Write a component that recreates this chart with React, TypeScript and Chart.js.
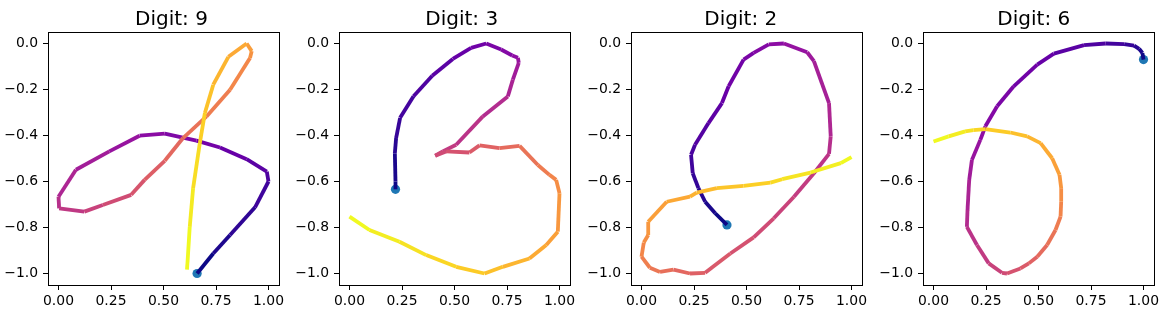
import React, { useEffect, useRef } from "react";
import { Chart, registerables } from "chart.js";

Chart.register(...registerables);

// ---------- data ----------
const digitLabels = ["9", "3", "2", "6"];

const digit9X = [0.66, 0.737, 0.817, 0.936, 1.0, 0.992, 0.896, 0.769, 0.657, 0.506, 0.386, 0.242, 0.083, 0.0, 0.003, 0.123, 0.211, 0.346, 0.41, 0.506, 0.593, 0.705, 0.817, 0.912, 0.92, 0.896, 0.809, 0.737, 0.697, 0.673, 0.641, 0.625, 0.612];
const digit9Y = [-1.0, -0.913, -0.833, -0.712, -0.6, -0.557, -0.503, -0.452, -0.422, -0.392, -0.401, -0.469, -0.549, -0.666, -0.717, -0.731, -0.702, -0.658, -0.593, -0.51, -0.411, -0.317, -0.201, -0.063, -0.033, 0.0, -0.058, -0.179, -0.302, -0.433, -0.629, -0.797, -0.983];

const digit3X = [0.219, 0.219, 0.216, 0.222, 0.241, 0.305, 0.394, 0.492, 0.579, 0.651, 0.722, 0.775, 0.802, 0.806, 0.778, 0.754, 0.635, 0.508, 0.444, 0.408, 0.46, 0.571, 0.619, 0.714, 0.81, 0.897, 0.952, 0.984, 1.0, 0.992, 0.937, 0.857, 0.73, 0.643, 0.508, 0.365, 0.238, 0.095, 0.0];
const digit3Y = [-0.634, -0.6, -0.477, -0.411, -0.323, -0.229, -0.14, -0.067, -0.019, 0.0, -0.026, -0.052, -0.062, -0.084, -0.157, -0.23, -0.317, -0.44, -0.469, -0.488, -0.469, -0.474, -0.443, -0.455, -0.445, -0.528, -0.571, -0.593, -0.651, -0.818, -0.876, -0.935, -0.971, -1.0, -0.971, -0.92, -0.862, -0.811, -0.753];

const digit2X = [0.407, 0.351, 0.303, 0.271, 0.244, 0.236, 0.255, 0.319, 0.383, 0.415, 0.486, 0.534, 0.606, 0.678, 0.789, 0.821, 0.893, 0.901, 0.893, 0.821, 0.726, 0.63, 0.534, 0.423, 0.303, 0.231, 0.152, 0.088, 0.04, 0.0, 0.011, 0.032, 0.032, 0.12, 0.231, 0.263, 0.359, 0.486, 0.614, 0.67, 0.805, 0.949, 1.0];
const digit2Y = [-0.789, -0.738, -0.688, -0.629, -0.564, -0.484, -0.44, -0.346, -0.259, -0.186, -0.07, -0.041, -0.004, 0.0, -0.038, -0.077, -0.259, -0.404, -0.48, -0.564, -0.666, -0.76, -0.843, -0.913, -0.997, -1.0, -0.983, -0.993, -0.975, -0.927, -0.865, -0.833, -0.775, -0.688, -0.666, -0.648, -0.629, -0.619, -0.605, -0.59, -0.561, -0.52, -0.494];

const digit6X = [1.0, 0.995, 0.979, 0.955, 0.908, 0.82, 0.717, 0.573, 0.494, 0.382, 0.303, 0.247, 0.223, 0.183, 0.17, 0.162, 0.159, 0.207, 0.263, 0.326, 0.35, 0.414, 0.454, 0.494, 0.541, 0.581, 0.605, 0.608, 0.608, 0.6, 0.565, 0.51, 0.446, 0.366, 0.247, 0.19, 0.151, 0.072, 0.0];
const digit6Y = [-0.07, -0.041, -0.023, -0.009, -0.003, 0.0, -0.007, -0.044, -0.092, -0.186, -0.273, -0.36, -0.419, -0.506, -0.593, -0.724, -0.797, -0.876, -0.956, -0.997, -1.0, -0.978, -0.956, -0.927, -0.876, -0.811, -0.753, -0.688, -0.629, -0.571, -0.499, -0.433, -0.404, -0.387, -0.372, -0.377, -0.382, -0.404, -0.426];

const strokesX = [digit9X, digit3X, digit2X, digit6X];
const strokesY = [digit9Y, digit3Y, digit2Y, digit6Y];

const xTickValues = [0, 0.25, 0.5, 0.75, 1.0];
const yTickValues = [0, -0.2, -0.4, -0.6, -0.8, -1.0];

// ---------- styling / layout ----------
const PLASMA = ["#0d0887", "#41049d", "#6a00a8", "#8f0da4", "#b12a90", "#cc4778", "#e16462", "#f2844b", "#fca636", "#fcce25", "#f0f921"];
const CANVAS_LEFTS = [0, 291, 583, 875];
const TITLE_CENTERS = [171.5, 170.7, 157.8, 158.8];
const CANVAS_W = 291;
const CANVAS_H = 319;
const TICK_FONT = { family: "'DejaVu Sans'", size: 13.9 };

function hexToRgb(h: string) {
  return [parseInt(h.slice(1, 3), 16), parseInt(h.slice(3, 5), 16), parseInt(h.slice(5, 7), 16)];
}
function plasma(t: number) {
  const c = Math.max(0, Math.min(1, t)) * (PLASMA.length - 1);
  const i = Math.min(Math.floor(c), PLASMA.length - 2);
  const f = c - i;
  const a = hexToRgb(PLASMA[i]);
  const b = hexToRgb(PLASMA[i + 1]);
  const m = a.map((v, k) => Math.round(v + (b[k] - v) * f));
  return `rgb(${m[0]},${m[1]},${m[2]})`;
}
function fmtMinus(s: string) {
  return s.replace("-", "\u2212");
}

function Panel({ index }: { index: number }) {
  const ref = useRef<HTMLCanvasElement | null>(null);
  useEffect(() => {
    const canvas = ref.current;
    if (!canvas) return;
    const xs = strokesX[index];
    const ys = strokesY[index];
    const n = xs.length;
    const pts = xs.map((x, i) => ({ x, y: ys[i] }));
    const title = "Digit: " + digitLabels[index];
    const titleX = TITLE_CENTERS[index];

    const framePlugin = {
      id: "frameTitle" + index,
      afterDraw(chart: any) {
        const { ctx, chartArea: a } = chart;
        ctx.save();
        ctx.strokeStyle = "#000";
        ctx.lineWidth = 1;
        ctx.strokeRect(Math.round(a.left) + 0.5, Math.round(a.top) + 0.5, Math.round(a.right - a.left), Math.round(a.bottom - a.top));
        ctx.fillStyle = "#000";
        ctx.font = "20px 'DejaVu Sans'";
        ctx.textAlign = "center";
        ctx.textBaseline = "alphabetic";
        ctx.fillText(title, titleX, 24.5);
        ctx.restore();
      },
    };

    const chart = new Chart(canvas, {
      type: "scatter",
      data: {
        datasets: [
          {
            data: pts,
            showLine: true,
            pointRadius: 0,
            borderWidth: 3.8,
            borderCapStyle: "butt",
            borderJoinStyle: "miter",
            tension: 0,
            borderColor: plasma(0),
            segment: {
              borderColor: (ctx: any) => plasma(ctx.p0DataIndex / (n - 2)),
            },
          } as any,
          {
            data: [pts[0]],
            pointRadius: 4.6,
            pointBackgroundColor: "#1f77b4",
            pointBorderWidth: 0,
            showLine: false,
          } as any,
        ],
      },
      options: {
        responsive: false,
        animation: false,
        events: [],
        layout: { padding: { left: 0, right: 12, top: 32, bottom: 0 } },
        plugins: { legend: { display: false }, tooltip: { enabled: false }, title: { display: false } },
        scales: {
          x: {
            type: "linear",
            min: -0.05,
            max: 1.05,
            afterBuildTicks: (s: any) => {
              s.ticks = xTickValues.map((v) => ({ value: v }));
            },
            afterFit: (s: any) => {
              s.height = 34;
              s.paddingLeft = 0;
              s.paddingRight = 0;
            },
            border: { display: false },
            grid: { display: true, drawOnChartArea: false, drawTicks: true, tickLength: 5, color: "#000", tickColor: "#000", lineWidth: 1 },
            ticks: {
              color: "#000",
              font: TICK_FONT,
              padding: 3,
              maxRotation: 0,
              autoSkip: false,
              callback: (v: any) => fmtMinus(Number(v).toFixed(2)),
            },
          },
          y: {
            type: "linear",
            min: -1.05,
            max: 0.05,
            afterBuildTicks: (s: any) => {
              s.ticks = yTickValues.map((v) => ({ value: v }));
            },
            afterFit: (s: any) => {
              s.width = 48;
              s.paddingTop = 0;
              s.paddingBottom = 0;
            },
            border: { display: false },
            grid: { display: true, drawOnChartArea: false, drawTicks: true, tickLength: 5, color: "#000", tickColor: "#000", lineWidth: 1 },
            ticks: {
              color: "#000",
              font: TICK_FONT,
              padding: 5,
              autoSkip: false,
              callback: (v: any) => {
                const s = Number(v).toFixed(1);
                return s === "-0.0" ? "0.0" : fmtMinus(s);
              },
            },
          },
        },
      } as any,
      plugins: [framePlugin],
    });
    return () => chart.destroy();
  }, [index]);

  return (
    <canvas
      ref={ref}
      width={CANVAS_W}
      height={CANVAS_H}
      style={{ position: "absolute", left: CANVAS_LEFTS[index], top: 0, width: CANVAS_W, height: CANVAS_H }}
    />
  );
}

export default function App() {
  return (
    <div style={{ position: "absolute", left: 0, top: 0, width: 1166, height: 319, background: "#fff", overflow: "hidden" }}>
      {digitLabels.map((_, i) => (
        <Panel key={i} index={i} />
      ))}
    </div>
  );
}
